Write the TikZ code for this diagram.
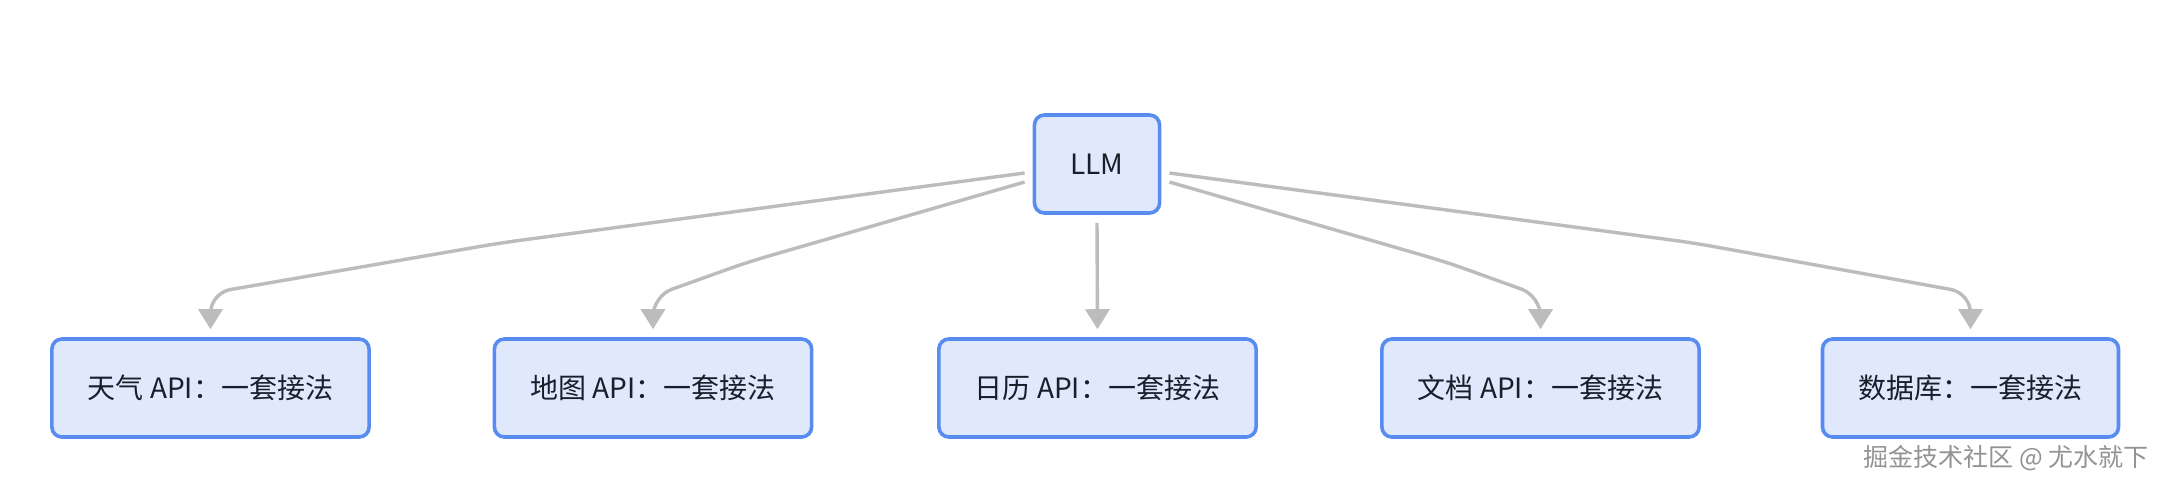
\documentclass[tikz,border=0pt]{standalone}
\usepackage{fontspec}
\setmainfont{Noto Sans CJK SC}
\usetikzlibrary{arrows.meta}
\definecolor{boxfill}{RGB}{224,232,251}
\definecolor{boxline}{RGB}{88,140,240}
\definecolor{edgegray}{RGB}{188,188,188}
\definecolor{inkdark}{RGB}{24,30,42}

\begin{document}
\begin{tikzpicture}[x=0.5pt,y=-0.5pt]
      \tikzset{api/.style={draw=boxline,fill=boxfill,line width=1.8pt,rounded corners=5pt,
               minimum height=49pt,inner xsep=18pt,text=inkdark,font=\fontsize{14pt}{16pt}\selectfont},
               link/.style={draw=edgegray,line width=1.7pt,rounded corners=10pt,
               -{Triangle[width=12pt,length=10pt]},shorten >=4pt}}
      \useasboundingbox[fill=white] (0,0) rectangle (2166,489);
      \node[api] (llm) at (1097,164) {LLM};
      \node[api] (weather) at (210.5,388) {天气 API：一套接法};
      \node[api] (map) at (653,388) {地图 API：一套接法};
      \node[api] (calendar) at (1097.5,388) {日历 API：一套接法};
      \node[api] (docs) at (1540.5,388) {文档 API：一套接法};
      \node[api] (db) at (1970.5,388) {数据库：一套接法};
      \draw[link] ([xshift=-4pt,yshift=-4.5pt]llm.west) -- (500,243) -- (210.5,293) -- (weather.north);
      \draw[link] ([xshift=-4pt,yshift=-9pt]llm.west) -- (748,262) -- (653,296) -- (map.north);
      \draw[link] ([yshift=-4pt]llm.south) -- (calendar.north);
      \draw[link] ([xshift=4pt,yshift=-9pt]llm.east) -- (1446,262) -- (1540.5,296) -- (docs.north);
      \draw[link] ([xshift=4pt,yshift=-4.5pt]llm.east) -- (1694,243) -- (1970.5,293) -- (db.north);
      \node[text=gray!85,font=\fontsize{12.5pt}{14pt}\selectfont] (mark) at (2006,458) {掘金技术社区 @ 尤水就下};
    \end{tikzpicture}
\end{document}
